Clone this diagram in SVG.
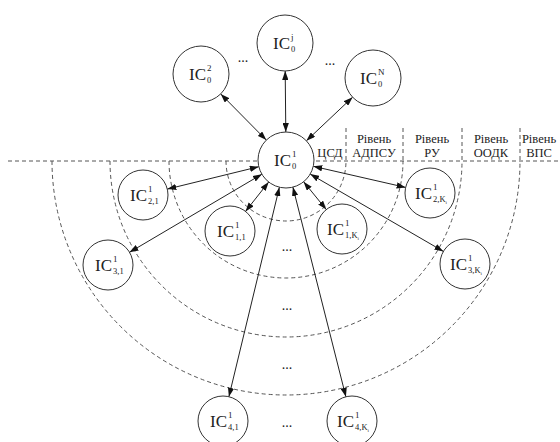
<svg xmlns="http://www.w3.org/2000/svg" width="560" height="442" viewBox="0 0 560 442" font-family="'Liberation Serif', 'DejaVu Serif', serif">
<style>
text{font-family:'Liberation Serif','DejaVu Serif',serif;fill:#222}
.node circle{fill:#fff;stroke:#333;stroke-width:1}
.ic{font-size:17px}
.sup{font-size:9px}
.sub{font-size:8.5px}
.tiny{font-size:5px}
.lbl{font-size:12.5px;text-anchor:middle}
.dots{font-size:14px;text-anchor:middle}
.dash{fill:none;stroke:#555;stroke-width:1;stroke-dasharray:4 3}
.conn line{stroke:#222;stroke-width:1}
</style>
<defs>
<marker id="ah" viewBox="0 0 10 7" refX="10" refY="3.5" markerWidth="9" markerHeight="6.3" markerUnits="userSpaceOnUse" orient="auto-start-reverse">
<path d="M0,0 L10,3.5 L0,7 z" fill="#111"/>
</marker>
</defs>
<rect width="560" height="442" fill="#fff"/>
<g id="levels">
<line class="dash" x1="8" y1="161" x2="560" y2="161"/>
<path class="dash" d="M226,161 A60,60 0 0 0 346,161"/>
<path class="dash" d="M169,161 A117,117 0 0 0 403,161"/>
<path class="dash" d="M110,161 A176,176 0 0 0 462,161"/>
<path class="dash" d="M52,161 A234,234 0 0 0 520,161"/>
<line class="dash" x1="346" y1="128" x2="346" y2="161"/>
<line class="dash" x1="403" y1="128" x2="403" y2="161"/>
<line class="dash" x1="462" y1="128" x2="462" y2="161"/>
<line class="dash" x1="520" y1="128" x2="520" y2="161"/>
<text class="lbl" x="330" y="157">ЦСД</text>
<text class="lbl" x="374" y="143">Рівень</text>
<text class="lbl" x="374" y="157">АДПСУ</text>
<text class="lbl" x="432" y="143">Рівень</text>
<text class="lbl" x="432" y="157">РУ</text>
<text class="lbl" x="491" y="143">Рівень</text>
<text class="lbl" x="491" y="157">ООДК</text>
<text class="lbl" x="539" y="143">Рівень</text>
<text class="lbl" x="539" y="157">ВПС</text>
</g>
<g id="connectors" class="conn">
<line x1="285.2" y1="71" x2="285.8" y2="132" marker-start="url(#ah)" marker-end="url(#ah)"/>
<line x1="220.7" y1="93.9" x2="266.3" y2="140.1" marker-start="url(#ah)" marker-end="url(#ah)"/>
<line x1="352.6" y1="97.2" x2="306.4" y2="140.8" marker-start="url(#ah)" marker-end="url(#ah)"/>
<line x1="167.3" y1="189.1" x2="258.8" y2="166.7" marker-start="url(#ah)" marker-end="url(#ah)"/>
<line x1="245.5" y1="211.4" x2="268.7" y2="182" marker-start="url(#ah)" marker-end="url(#ah)"/>
<line x1="129.5" y1="252.3" x2="261.9" y2="174.2" marker-start="url(#ah)" marker-end="url(#ah)"/>
<line x1="326.3" y1="209.6" x2="303.6" y2="181.7" marker-start="url(#ah)" marker-end="url(#ah)"/>
<line x1="405.6" y1="187.4" x2="313.3" y2="166.3" marker-start="url(#ah)" marker-end="url(#ah)"/>
<line x1="443.4" y1="251.4" x2="310.2" y2="174.1" marker-start="url(#ah)" marker-end="url(#ah)"/>
<line x1="228.9" y1="396.7" x2="279.4" y2="187.2" marker-start="url(#ah)" marker-end="url(#ah)"/>
<line x1="345.9" y1="396.8" x2="292.9" y2="187.1" marker-start="url(#ah)" marker-end="url(#ah)"/>
</g>
<g id="dots">
<text class="dots" x="243" y="62">...</text>
<text class="dots" x="330" y="65">...</text>
<text class="dots" x="287" y="251">...</text>
<text class="dots" x="287" y="310">...</text>
<text class="dots" x="287" y="369">...</text>
<text class="dots" x="287" y="427">...</text>
</g>
<g id="n0j" class="node"><circle cx="285" cy="43" r="28"/><text class="ic" x="273" y="49">IC</text><text class="sup" x="291" y="40">j</text><text class="sub" x="291" y="52">0</text></g>
<g id="n02" class="node"><circle cx="201" cy="74" r="28"/><text class="ic" x="189" y="80">IC</text><text class="sup" x="207" y="71">2</text><text class="sub" x="207" y="83">0</text></g>
<g id="n0N" class="node"><circle cx="373" cy="78" r="28"/><text class="ic" x="360" y="84">IC</text><text class="sup" x="378" y="75">N</text><text class="sub" x="378" y="87">0</text></g>
<g id="n01" class="node"><circle cx="286" cy="160" r="28"/><text class="ic" x="274" y="166">IC</text><text class="sup" x="292" y="157">1</text><text class="sub" x="292" y="169">0</text></g>
<g id="n21" class="node"><circle cx="143" cy="195" r="25"/><text class="ic" x="130" y="201">IC</text><text class="sup" x="148" y="192">1</text><text class="sub" x="148" y="204">2,1</text></g>
<g id="n11" class="node"><circle cx="230" cy="231" r="25"/><text class="ic" x="217" y="237">IC</text><text class="sup" x="235" y="228">1</text><text class="sub" x="235" y="240">1,1</text></g>
<g id="n31" class="node"><circle cx="108" cy="265" r="25"/><text class="ic" x="95" y="271">IC</text><text class="sup" x="113" y="262">1</text><text class="sub" x="113" y="274">3,1</text></g>
<g id="n1K" class="node"><circle cx="342" cy="229" r="25"/><text class="ic" x="327" y="235">IC</text><text class="sup" x="345" y="226">1</text><text class="sub" x="345" y="238">1,K<tspan class="tiny" dy="1.5">i</tspan></text></g>
<g id="n2K" class="node"><circle cx="430" cy="193" r="25"/><text class="ic" x="415" y="199">IC</text><text class="sup" x="433" y="190">1</text><text class="sub" x="433" y="202">2,K<tspan class="tiny" dy="1.5">i</tspan></text></g>
<g id="n3K" class="node"><circle cx="465" cy="264" r="25"/><text class="ic" x="450" y="270">IC</text><text class="sup" x="468" y="261">1</text><text class="sub" x="468" y="273">3,K<tspan class="tiny" dy="1.5">i</tspan></text></g>
<g id="n41" class="node"><circle cx="223" cy="421" r="25"/><text class="ic" x="210" y="427">IC</text><text class="sup" x="228" y="418">1</text><text class="sub" x="228" y="430">4,1</text></g>
<g id="n4K" class="node"><circle cx="352" cy="421" r="25"/><text class="ic" x="337" y="427">IC</text><text class="sup" x="355" y="418">1</text><text class="sub" x="355" y="430">4,K<tspan class="tiny" dy="1.5">i</tspan></text></g>
</svg>
